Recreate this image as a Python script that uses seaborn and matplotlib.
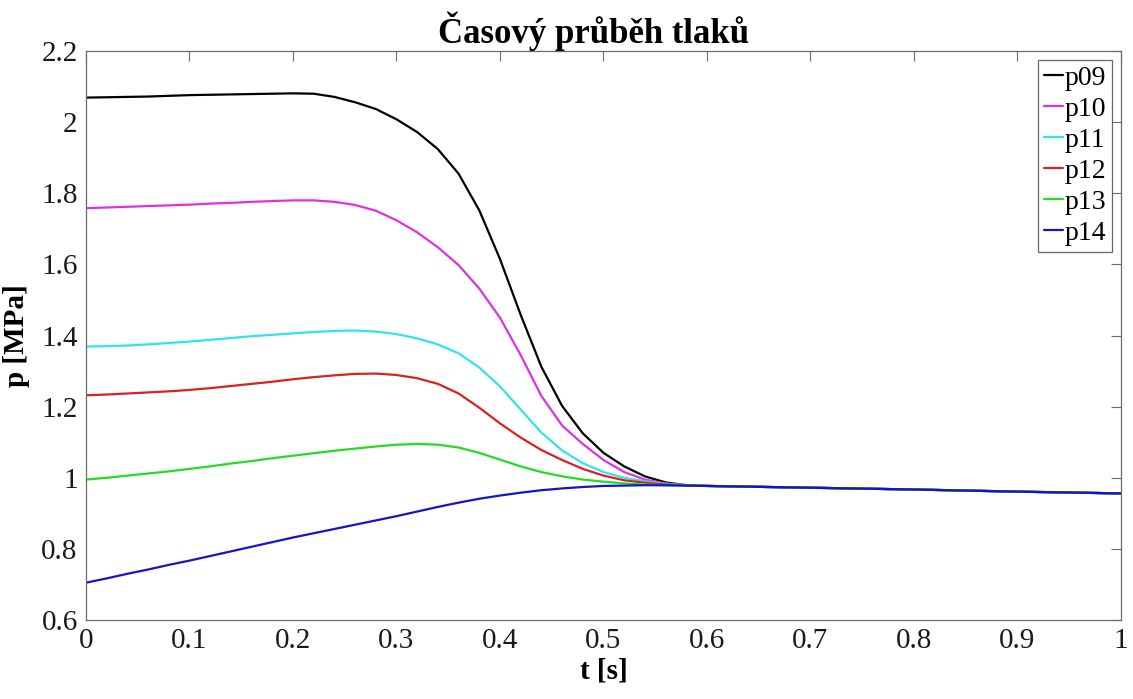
import numpy as np
import pandas as pd
import matplotlib
matplotlib.use("Agg")
import matplotlib.pyplot as plt
import seaborn as sns
from matplotlib.ticker import FuncFormatter, MultipleLocator

# time samples [s]
t = [0.00, 0.02, 0.04, 0.06, 0.08, 0.10, 0.12, 0.14, 0.16, 0.18,
     0.20, 0.22, 0.24, 0.26, 0.28, 0.30, 0.32, 0.34, 0.36, 0.38,
     0.40, 0.42, 0.44, 0.46, 0.48, 0.50, 0.52, 0.54, 0.56, 0.58,
     0.60, 0.70, 0.80, 0.90, 1.00]

# pressures [MPa]
p09 = [2.069, 2.070, 2.071, 2.072, 2.074, 2.076, 2.077, 2.078, 2.079, 2.080,
       2.081, 2.080, 2.071, 2.056, 2.037, 2.008, 1.972, 1.924, 1.855, 1.752,
       1.615, 1.458, 1.312, 1.202, 1.125, 1.070, 1.032, 1.004, 0.987, 0.979,
       0.977, 0.972, 0.967, 0.961, 0.956]
p10 = [1.758, 1.760, 1.762, 1.764, 1.766, 1.768, 1.771, 1.773, 1.776, 1.778,
       1.780, 1.780, 1.776, 1.767, 1.751, 1.724, 1.690, 1.648, 1.598, 1.532,
       1.450, 1.345, 1.230, 1.147, 1.095, 1.050, 1.016, 0.995, 0.984, 0.979,
       0.977, 0.972, 0.967, 0.961, 0.956]
p11 = [1.369, 1.370, 1.372, 1.375, 1.379, 1.383, 1.388, 1.393, 1.398, 1.402,
       1.406, 1.410, 1.413, 1.414, 1.411, 1.404, 1.392, 1.375, 1.350, 1.310,
       1.257, 1.192, 1.127, 1.077, 1.041, 1.016, 1.000, 0.990, 0.983, 0.979,
       0.977, 0.972, 0.967, 0.961, 0.956]
p12 = [1.232, 1.234, 1.237, 1.240, 1.243, 1.247, 1.252, 1.258, 1.264, 1.270,
       1.277, 1.283, 1.288, 1.292, 1.293, 1.289, 1.280, 1.264, 1.237, 1.197,
       1.153, 1.113, 1.078, 1.050, 1.025, 1.006, 0.993, 0.986, 0.981, 0.979,
       0.977, 0.972, 0.967, 0.961, 0.956]
p13 = [0.995, 1.000, 1.006, 1.012, 1.018, 1.025, 1.032, 1.040, 1.047, 1.055,
       1.062, 1.069, 1.076, 1.082, 1.088, 1.093, 1.095, 1.093, 1.085, 1.070,
       1.051, 1.032, 1.016, 1.004, 0.995, 0.989, 0.984, 0.981, 0.979, 0.978,
       0.977, 0.972, 0.967, 0.961, 0.956]
p14 = [0.705, 0.717, 0.730, 0.742, 0.755, 0.767, 0.780, 0.793, 0.806, 0.819,
       0.832, 0.844, 0.856, 0.868, 0.880, 0.892, 0.905, 0.918, 0.930, 0.941,
       0.950, 0.958, 0.965, 0.970, 0.974, 0.977, 0.978, 0.979, 0.979, 0.978,
       0.977, 0.972, 0.967, 0.961, 0.956]

names = ["p09", "p10", "p11", "p12", "p13", "p14"]
series = [p09, p10, p11, p12, p13, p14]
colors = ["#000000", "#e030e0", "#30e4ea", "#d82222", "#22dd22", "#1414c8"]

df = pd.concat(
    [pd.DataFrame({"t": t, "p": s, "name": n}) for n, s in zip(names, series)],
    ignore_index=True,
)

sns.set_style("white")
plt.rcParams["font.family"] = ["Liberation Serif", "DejaVu Serif"]

fig = plt.figure(figsize=(11.33, 6.99), dpi=100)
ax = fig.add_axes([0.0759, 0.1130, 0.9135, 0.8140])

sns.lineplot(data=df, x="t", y="p", hue="name", palette=dict(zip(names, colors)),
             linewidth=1.6, ax=ax, legend=True, sort=False)

axis_gray = "#6a6a6a"
ax.set_xlim(0, 1)
ax.set_ylim(0.6, 2.2)
ax.xaxis.set_major_locator(MultipleLocator(0.1))
ax.yaxis.set_major_locator(MultipleLocator(0.2))
fmt = FuncFormatter(lambda v, pos: f"{v:g}")
ax.xaxis.set_major_formatter(fmt)
ax.yaxis.set_major_formatter(fmt)
ax.tick_params(axis="both", which="major", direction="in", length=7.5, width=0.8,
               color=axis_gray, labelsize=21, labelcolor="#1a1a1a",
               top=True, right=True, pad=6)
for sp in ax.spines.values():
    sp.set_color(axis_gray)
    sp.set_linewidth(0.9)

ax.set_xlabel("t [s]", fontsize=21, fontweight="bold", labelpad=2, color="black")
ax.set_ylabel("p [MPa]", fontsize=21, fontweight="bold", labelpad=8, color="black")
ax.set_title("Časový průběh tlaků", fontsize=25, fontweight="bold", pad=6, x=0.49,
             color="black")

handles, labels = ax.get_legend_handles_labels()
leg = ax.legend(handles, labels, loc="upper right", fontsize=20,
                frameon=True, fancybox=False, handlelength=0.7,
                handletextpad=0.05, borderpad=0.2, labelspacing=0.2,
                borderaxespad=0.33)
leg.get_frame().set_edgecolor("#444444")
leg.get_frame().set_linewidth(0.9)
for text in leg.get_texts():
    text.set_color("black")
for line in leg.get_lines():
    line.set_linewidth(1.6)

fig.savefig("out.png", dpi=100)
